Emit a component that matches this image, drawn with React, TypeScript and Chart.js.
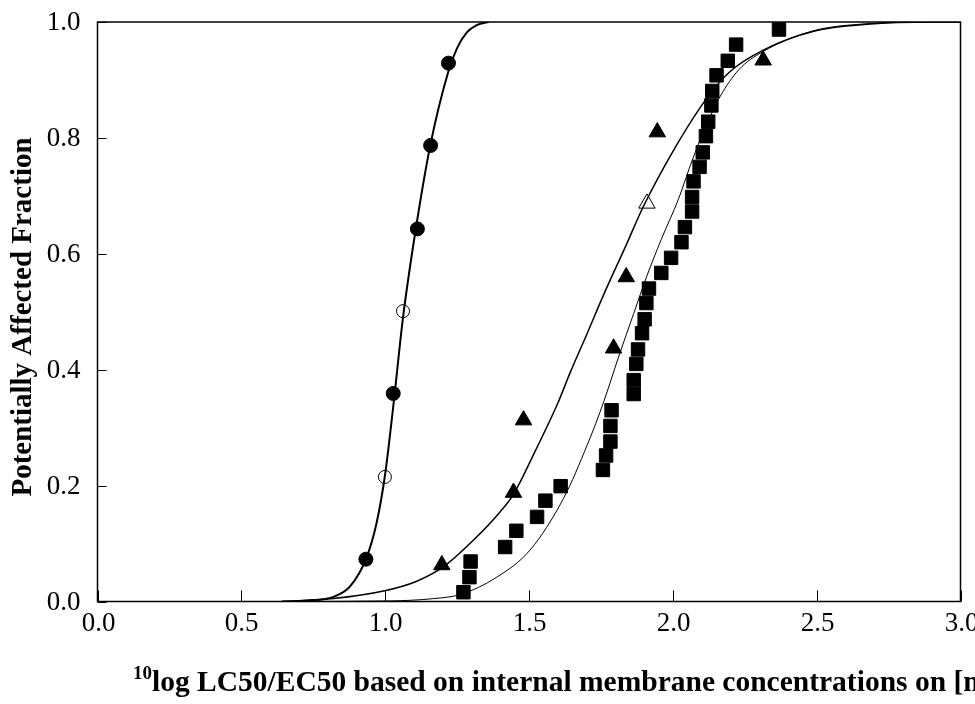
import React, { useEffect, useRef } from "react";
import { Chart, registerables } from "chart.js";

Chart.register(...registerables);

// ---- Data ----
const circleFilledX = [0.933, 1.028, 1.112, 1.158, 1.22];
const circleFilledY = [0.073, 0.359, 0.643, 0.787, 0.929];
const circleOpenX = [0.999, 1.062];
const circleOpenY = [0.215, 0.501];

const triFilledX = [1.197, 1.446, 1.481, 1.794, 1.838, 1.946, 2.314];
const triFilledY = [0.063, 0.188, 0.313, 0.437, 0.56, 0.81, 0.934];
const triOpenX = [1.91];
const triOpenY = [0.687];

const squareX = [1.272, 1.293, 1.297, 1.417, 1.456, 1.528, 1.557, 1.61, 1.757, 1.768, 1.783, 1.783, 1.787, 1.864, 1.864, 1.873, 1.879, 1.893, 1.902, 1.908, 1.917, 1.96, 1.994, 2.03, 2.042, 2.067, 2.067, 2.072, 2.093, 2.104, 2.115, 2.123, 2.134, 2.137, 2.152, 2.191, 2.22, 2.369];
const squareY = [0.016, 0.042, 0.069, 0.094, 0.122, 0.146, 0.174, 0.199, 0.227, 0.252, 0.276, 0.303, 0.33, 0.358, 0.382, 0.41, 0.435, 0.463, 0.487, 0.515, 0.54, 0.567, 0.593, 0.62, 0.646, 0.673, 0.698, 0.725, 0.75, 0.775, 0.803, 0.828, 0.856, 0.881, 0.908, 0.933, 0.961, 0.987];

const circleCurveX = [0.64, 0.75, 0.82, 0.878, 0.933, 0.97, 1.0, 1.03, 1.062, 1.112, 1.158, 1.22, 1.25, 1.284, 1.32, 1.36];
const circleCurveY = [0, 0.002, 0.008, 0.026, 0.073, 0.135, 0.22, 0.345, 0.49, 0.66, 0.79, 0.915, 0.955, 0.982, 0.995, 1.0];

const triCurveX = [0.645, 0.82, 0.994, 1.11, 1.203, 1.307, 1.4, 1.446, 1.522, 1.6, 1.643, 1.7, 1.76, 1.835, 1.898, 2.003, 2.119, 2.2, 2.316, 2.49, 2.675, 2.9, 3.0];
const triCurveY = [0, 0.005, 0.018, 0.035, 0.06, 0.106, 0.155, 0.185, 0.26, 0.342, 0.395, 0.46, 0.53, 0.612, 0.682, 0.779, 0.869, 0.915, 0.952, 0.984, 0.996, 1.0, 1.0];

const squareCurveX = [0.65, 1.017, 1.168, 1.261, 1.388, 1.504, 1.62, 1.704, 1.76, 1.81, 1.864, 1.91, 1.96, 2.02, 2.07, 2.12, 2.165, 2.23, 2.31, 2.49, 2.675, 2.9, 3.0];
const squareCurveY = [0, 0.001, 0.005, 0.012, 0.042, 0.089, 0.178, 0.272, 0.345, 0.42, 0.497, 0.562, 0.625, 0.695, 0.765, 0.826, 0.872, 0.918, 0.948, 0.985, 0.997, 1.0, 1.0];

const xTicks = [0, 0.5, 1.0, 1.5, 2.0, 2.5, 3.0];
const yTicks = [0, 0.2, 0.4, 0.6, 0.8, 1.0];

const yTitle = "Potentially Affected Fraction";
const xTitleSup = "10";
const xTitleMain = "log LC50/EC50 based on internal membrane concentrations on [mmol/kg lipid]";

const pts = (xs: number[], ys: number[]) => xs.map((x, i) => ({ x, y: ys[i] }));

const SERIF = '"Liberation Serif", "Times New Roman", serif';

const framePlugin = {
  id: "frame",
  afterDraw(chart: any) {
    const { ctx, chartArea: a, scales } = chart;
    ctx.save();
    // frame
    ctx.strokeStyle = "#000";
    ctx.lineWidth = 1.5;
    ctx.strokeRect(a.left, a.top, a.right - a.left, a.bottom - a.top);
    // inward ticks + labels
    ctx.lineWidth = 1;
    ctx.fillStyle = "#000";
    ctx.font = `27px ${SERIF}`;
    ctx.textAlign = "center";
    ctx.textBaseline = "middle";
    xTicks.forEach((v) => {
      const px = Math.round(scales.x.getPixelForValue(v)) + 0.5;
      ctx.beginPath();
      ctx.moveTo(px, a.bottom);
      ctx.lineTo(px, a.bottom - 11);
      ctx.stroke();
      ctx.fillText(v.toFixed(1), px, a.bottom + 22);
    });
    ctx.textAlign = "right";
    yTicks.forEach((v) => {
      const py = Math.round(scales.y.getPixelForValue(v)) + 0.5;
      ctx.beginPath();
      ctx.moveTo(a.left, py);
      ctx.lineTo(a.left + 9, py);
      ctx.stroke();
      ctx.fillText(v.toFixed(1), a.left - 17, py);
    });
    // y title
    ctx.font = `bold 29px ${SERIF}`;
    ctx.textAlign = "center";
    ctx.textBaseline = "middle";
    ctx.translate(24, 317);
    ctx.rotate(-Math.PI / 2);
    ctx.fillText(yTitle, 0, 0);
    ctx.restore();

    // x title with superscript
    ctx.save();
    ctx.fillStyle = "#000";
    ctx.textAlign = "left";
    ctx.textBaseline = "alphabetic";
    const baseY = 691;
    let x0 = 133;
    ctx.font = `bold 19px ${SERIF}`;
    ctx.fillText(xTitleSup, x0, baseY - 12);
    x0 += ctx.measureText(xTitleSup).width;
    ctx.font = `bold 29.5px ${SERIF}`;
    ctx.fillText(xTitleMain, x0, baseY);
    ctx.restore();
  },
};

export default function App() {
  const ref = useRef<HTMLCanvasElement | null>(null);
  useEffect(() => {
    if (!ref.current) return;
    const line = (xs: number[], ys: number[], w: number) => ({
      type: "scatter" as const,
      data: pts(xs, ys),
      showLine: true,
      borderColor: "#000",
      borderWidth: w,
      pointRadius: 0,
      cubicInterpolationMode: "monotone" as const,
      fill: false,
    });
    const marks = (xs: number[], ys: number[], style: string, r: number, filled: boolean) => ({
      type: "scatter" as const,
      data: pts(xs, ys),
      showLine: false,
      pointStyle: style,
      pointRadius: r,
      pointBackgroundColor: filled ? "#000" : "#fff",
      pointBorderColor: "#000",
      pointBorderWidth: 1,
    });
    const chart = new Chart(ref.current, {
      type: "scatter",
      data: {
        datasets: [
          line(circleCurveX, circleCurveY, 2),
          line(triCurveX, triCurveY, 1.5),
          line(squareCurveX, squareCurveY, 1),
          marks(circleFilledX, circleFilledY, "circle", 7, true),
          marks(circleOpenX, circleOpenY, "circle", 6.5, false),
          marks(triFilledX, triFilledY, "triangle", 9.5, true),
          marks(triOpenX, triOpenY, "triangle", 9.5, false),
          marks(squareX, squareY, "rect", 9.5, true),
        ] as any,
      },
      options: {
        animation: false,
        responsive: false,
        events: [],
        layout: { padding: { top: 22, right: 14.5, left: 0, bottom: 0 } },
        plugins: { legend: { display: false }, tooltip: { enabled: false }, title: { display: false } },
        scales: {
          x: {
            type: "linear",
            min: 0,
            max: 3,
            afterFit: (s: any) => {
              s.height = 102.5;
            },
            grid: { display: false, drawTicks: false },
            border: { display: false },
            ticks: { display: false },
          },
          y: {
            type: "linear",
            min: 0,
            max: 1,
            afterFit: (s: any) => {
              s.width = 97.5;
            },
            grid: { display: false, drawTicks: false },
            border: { display: false },
            ticks: { display: false },
          },
        },
      },
      plugins: [framePlugin],
    });
    return () => chart.destroy();
  }, []);
  return (
    <div style={{ position: "fixed", left: 0, top: 0, width: 975, height: 704, background: "#fff" }}>
      <canvas ref={ref} width={975} height={704} style={{ display: "block", width: 975, height: 704 }} />
    </div>
  );
}
